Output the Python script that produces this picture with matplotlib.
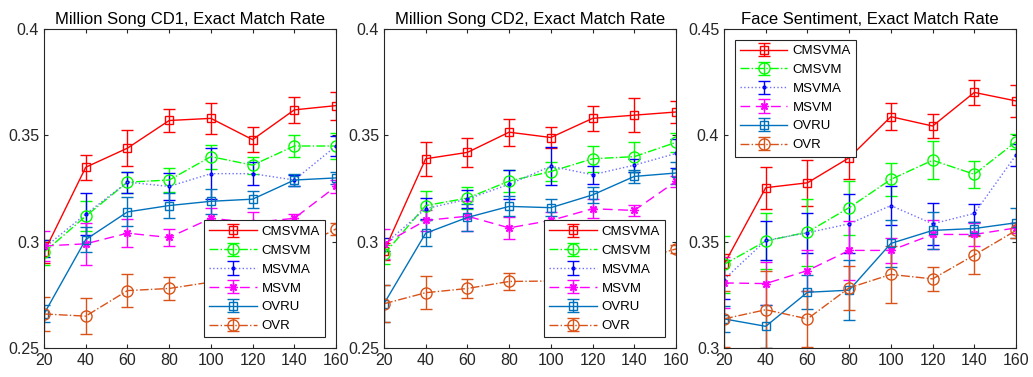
import matplotlib
matplotlib.use("Agg")
import matplotlib.pyplot as plt
import numpy as np

plt.rcParams['font.family'] = ['Liberation Sans', 'DejaVu Sans']

sizes = [20, 40, 60, 80, 100, 120, 140, 160]
methods = ['CMSVMA', 'CMSVM', 'MSVMA', 'MSVM', 'OVRU', 'OVR']
titles = ['Million Song CD1, Exact Match Rate',
          'Million Song CD2, Exact Match Rate',
          'Face Sentiment, Exact Match Rate']

# rows follow `methods`
cd1_mean = [
    [0.295, 0.335, 0.344, 0.357, 0.358, 0.348, 0.362, 0.364],
    [0.295, 0.312, 0.328, 0.329, 0.340, 0.336, 0.345, 0.345],
    [0.297, 0.313, 0.328, 0.326, 0.332, 0.332, 0.329, 0.345],
    [0.298, 0.299, 0.304, 0.302, 0.311, 0.309, 0.311, 0.326],
    [0.266, 0.301, 0.314, 0.317, 0.319, 0.320, 0.329, 0.330],
    [0.266, 0.265, 0.277, 0.278, 0.281, 0.285, 0.296, 0.306],
]
cd1_err = [
    [0.005, 0.006, 0.0085, 0.0056, 0.0074, 0.006, 0.006, 0.0066],
    [0.006, 0.007, 0.005, 0.0055, 0.0057, 0.004, 0.005, 0.006],
    [0.004, 0.010, 0.005, 0.0065, 0.012, 0.0055, 0.0026, 0.0045],
    [0.007, 0.010, 0.0065, 0.004, 0.005, 0.005, 0.002, 0.003],
    [0.004, 0.006, 0.0068, 0.006, 0.006, 0.004, 0.003, 0.003],
    [0.008, 0.0083, 0.0077, 0.0055, 0.005, 0.005, 0.004, 0.003],
]
cd2_mean = [
    [0.2955, 0.339, 0.342, 0.3515, 0.349, 0.358, 0.3595, 0.361],
    [0.294, 0.317, 0.3205, 0.3285, 0.333, 0.339, 0.340, 0.3467],
    [0.2986, 0.3155, 0.320, 0.327, 0.3355, 0.3315, 0.336, 0.3415],
    [0.299, 0.310, 0.312, 0.3065, 0.310, 0.3155, 0.3147, 0.3284],
    [0.2708, 0.304, 0.3114, 0.3166, 0.316, 0.322, 0.3307, 0.3323],
    [0.2708, 0.276, 0.278, 0.2813, 0.2815, 0.286, 0.291, 0.2966],
]
cd2_err = [
    [0.004, 0.008, 0.007, 0.0063, 0.005, 0.0058, 0.008, 0.0052],
    [0.0043, 0.0067, 0.005, 0.005, 0.0045, 0.006, 0.007, 0.0045],
    [0.003, 0.005, 0.0043, 0.0067, 0.009, 0.0043, 0.003, 0.0068],
    [0.007, 0.005, 0.007, 0.005, 0.004, 0.0045, 0.0027, 0.0025],
    [0.0087, 0.006, 0.0063, 0.0047, 0.004, 0.0037, 0.003, 0.005],
    [0.0087, 0.0077, 0.0043, 0.004, 0.004, 0.004, 0.003, 0.002],
]
face_mean = [
    [0.3393, 0.3754, 0.3777, 0.3895, 0.4088, 0.4044, 0.4202, 0.4162],
    [0.3393, 0.3503, 0.3545, 0.366, 0.3793, 0.3883, 0.3817, 0.397],
    [0.3322, 0.3506, 0.3542, 0.3584, 0.367, 0.3584, 0.3633, 0.3908],
    [0.3306, 0.3303, 0.3364, 0.3459, 0.3459, 0.3534, 0.3534, 0.3565],
    [0.3137, 0.3102, 0.3262, 0.3272, 0.3492, 0.3553, 0.3562, 0.3589],
    [0.3137, 0.318, 0.3137, 0.3283, 0.3346, 0.3325, 0.3437, 0.3553],
]
face_err = [
    [0.005, 0.0098, 0.0107, 0.010, 0.0063, 0.0057, 0.006, 0.0075],
    [0.0136, 0.013, 0.0157, 0.0127, 0.0077, 0.009, 0.0063, 0.0035],
    [0.009, 0.0092, 0.0095, 0.0138, 0.009, 0.010, 0.0042, 0.005],
    [0.012, 0.010, 0.0095, 0.014, 0.006, 0.007, 0.0055, 0.0025],
    [0.006, 0.010, 0.008, 0.014, 0.011, 0.0087, 0.003, 0.007],
    [0.013, 0.018, 0.013, 0.0105, 0.0134, 0.0057, 0.0088, 0.0035],
]

colors = ['#ff0000', '#00ff00', '#0000ff', '#ff00ff', '#0072bd', '#d95319']
line_colors = ['#ff0000', '#00ff00', '#6f6fff', '#ff00ff', '#0072bd', '#d95319']
styles = ['-', '-.', ':', (0, (7, 4)), '-', '-.']
markers = ['s', 'o', '.', (8, 2, 0), 's', 'o']
msizes = [5.5, 8, 4, 6, 5.5, 8]

fig = plt.figure(figsize=(10.33, 3.77), dpi=100)
lefts = [0.0426, 0.3717, 0.7009]
ylims = [(0.25, 0.4), (0.25, 0.4), (0.3, 0.45)]
yticks = [[0.25, 0.3, 0.35, 0.4], [0.25, 0.3, 0.35, 0.4], [0.3, 0.35, 0.4, 0.45]]
panels = [(cd1_mean, cd1_err), (cd2_mean, cd2_err), (face_mean, face_err)]

for p in range(3):
    ax = fig.add_axes([lefts[p], 0.0769, 0.2827, 0.846])
    means, errs = panels[p]
    for i, name in enumerate(methods):
        ax.errorbar(sizes, means[i], yerr=errs[i], color=line_colors[i],
                    ecolor=colors[i], ls=styles[i], lw=1.0, elinewidth=1.0,
                    marker=markers[i], ms=msizes[i], mfc='none',
                    mec=colors[i], mew=1.0, capsize=4, capthick=1.0, label=name)
    ax.set_xlim(20, 160)
    ax.set_ylim(*ylims[p])
    ax.set_xticks(sizes)
    ax.set_yticks(yticks[p])
    ax.set_yticklabels([('%g' % v) for v in yticks[p]])
    ax.tick_params(direction='in', length=3, labelsize=11.5, colors='#262626',
                   top=True, right=True)
    for s in ax.spines.values():
        s.set_color('#262626')
        s.set_linewidth(0.8)
    ax.set_title(titles[p], fontsize=12, pad=4)
    loc = 'lower right' if p < 2 else 'upper left'
    leg = ax.legend(loc=loc, fontsize=9.5, handlelength=3.6,
                    borderaxespad=0.8, fancybox=False, edgecolor='#262626',
                    framealpha=1, labelspacing=0.5, borderpad=0.4,
                    handletextpad=0.4)
    leg.get_frame().set_linewidth(0.8)

fig.savefig('out.png', dpi=100)
